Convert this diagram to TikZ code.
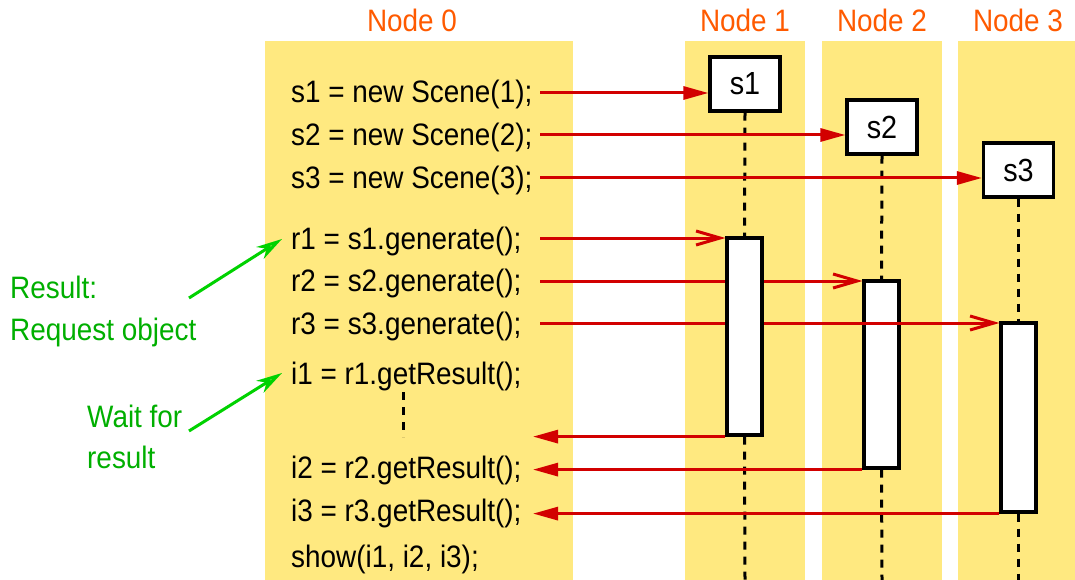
\documentclass[tikz,border=0pt]{standalone}
\usepackage{fontspec}
\setmainfont{Liberation Sans}[FakeStretch=0.9]
\usetikzlibrary{arrows.meta}
\definecolor{lanecol}{RGB}{255,233,128}
\definecolor{msgcol}{RGB}{210,0,0}
\definecolor{hdrcol}{RGB}{255,90,0}
\definecolor{gtextcol}{RGB}{0,175,0}
\definecolor{garrowcol}{RGB}{0,210,0}
\tikzset{
  txt/.style={font=\fontsize{31}{37}\selectfont, inner sep=0pt, anchor=base west},
  hdr/.style={font=\fontsize{31}{37}\selectfont, inner sep=0pt, anchor=base, text=hdrcol},
  gtxt/.style={txt, text=gtextcol},
  objbox/.style={draw=black, fill=white, line width=3.2pt, minimum width=70pt, minimum height=54pt, inner sep=0pt, font=\fontsize{32}{38}\selectfont},
  actbox/.style={draw=black, fill=white, line width=3.2pt, minimum width=35pt, inner sep=0pt},
  life/.style={draw=black, line width=3pt, dash pattern=on 8pt off 7pt},
  callarrow/.style={draw=msgcol, line width=3pt, -{Triangle[length=25pt,width=13pt]}},
  reqarrow/.style={draw=msgcol, line width=3pt, -{Straight Barb[length=24pt,width=14pt]}},
  retarrow/.style={draw=msgcol, line width=3pt, -{Triangle[length=25pt,width=13pt]}},
  greenarrow/.style={draw=garrowcol, line width=3pt, -{Stealth[open,length=26pt,width=14pt,inset=8pt]}},
}
\begin{document}
\begin{tikzpicture}[x=1pt,y=-1pt]
\useasboundingbox (0,0) rectangle (1075,580);
% lanes
\fill[lanecol] (265,41) rectangle (573,580);
\fill[lanecol] (685,41) rectangle (805,580);
\fill[lanecol] (822,41) rectangle (942,580);
\fill[lanecol] (958,41) rectangle (1075,580);
% headers
\node[hdr] (h0) at (412,32) {Node 0};
\node[hdr] (h1) at (745,32) {Node 1};
\node[hdr] (h2) at (882,32) {Node 2};
\node[hdr] (h3) at (1018,32) {Node 3};
% object boxes
\node[objbox] (s1) at (745,84) {s1};
\node[objbox] (s2) at (882,127) {s2};
\node[objbox] (s3) at (1018.5,170) {s3};
% activation boxes
\node[actbox, minimum height=197pt] (a1) at (744.5,336.5) {};
\node[actbox, minimum height=187pt] (a2) at (881.5,374.5) {};
\node[actbox, minimum height=189pt] (a3) at (1018.5,417.5) {};
% lifelines
\coordinate (b1) at (745,580);
\coordinate (b2) at (882,580);
\coordinate (b3) at (1018.5,580);
\draw[life] (s1.south) -- (a1.north);
\draw[life] (a1.south) -- (b1);
\draw[life] (s2.south) -- (a2.north);
\draw[life] (a2.south) -- (b2);
\draw[life] (s3.south) -- (a3.north);
\draw[life] (a3.south) -- (b3);
% code text
\node[txt] (c1) at (291,103) {s1 = new Scene(1);};
\node[txt] (c2) at (291,146) {s2 = new Scene(2);};
\node[txt] (c3) at (291,188) {s3 = new Scene(3);};
\node[txt] (c4) at (291,249) {r1 = s1.generate();};
\node[txt] (c5) at (291,291) {r2 = s2.generate();};
\node[txt] (c6) at (291,334) {r3 = s3.generate();};
\node[txt] (c7) at (291,384) {i1 = r1.getResult();};
\node[txt] (c8) at (291,478) {i2 = r2.getResult();};
\node[txt] (c9) at (291,521) {i3 = r3.getResult();};
\node[txt] (c10) at (291,567) {show(i1, i2, i3);};
\coordinate (d1) at (403,392);
\coordinate (d2) at (403,437);
\draw[life] (d1) -- (d2);
% messages
\coordinate (m1) at (540,93);
\coordinate (m2) at (540,135);
\coordinate (m3) at (540,178);
\coordinate (m4) at (540,238);
\coordinate (m5) at (540,281);
\coordinate (m6) at (540,323);
\draw[callarrow] (m1) -- (m1 -| s1.west);
\draw[callarrow] (m2) -- (m2 -| s2.west);
\draw[callarrow] (m3) -- (m3 -| s3.west);
\draw[reqarrow] (m4) -- (m4 -| a1.west);
\draw[reqarrow] (m5) -- (m5 -| a2.west);
\draw[reqarrow] (m6) -- (m6 -| a3.west);
% redraw boxes over request lines
\node[actbox, minimum height=197pt] at (744.5,336.5) {};
% returns
\coordinate (e1) at (533,435);
\draw[retarrow] (a1.south west) -- (a1.south west -| e1);
\draw[retarrow] (a2.south west) -- (a2.south west -| e1);
\draw[retarrow] (a3.south west) -- (a3.south west -| e1);
% green notes
\node[gtxt] (n1) at (10,298) {Result:};
\node[gtxt] (n2) at (10,340) {Request object};
\node[gtxt] (n3) at (87,427) {Wait for};
\node[gtxt] (n4) at (87,468) {result};
\coordinate (g1s) at (189,298);
\coordinate (g1e) at (282,239);
\coordinate (g2s) at (189,431);
\coordinate (g2e) at (282,373);
\draw[greenarrow] (g1s) -- (g1e);
\draw[greenarrow] (g2s) -- (g2e);
\end{tikzpicture}
\end{document}
